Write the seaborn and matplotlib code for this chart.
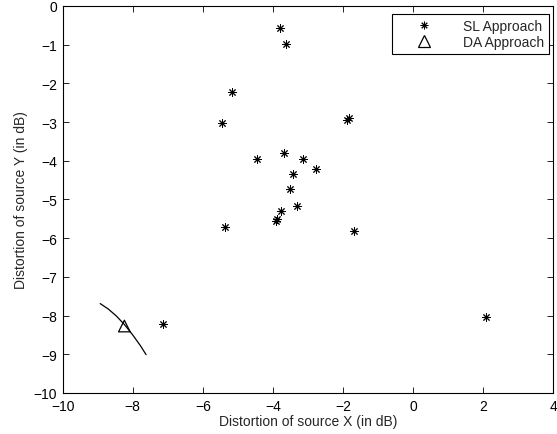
import numpy as np
import pandas as pd
import seaborn as sns
from matplotlib import pyplot as plt
from matplotlib.lines import Line2D

# SL approach points (dB)
sl_x = [-3.81, -3.62, -5.17, -5.44, -1.83, -1.87, -4.44, -3.67, -3.13, -2.76,
        -3.42, -3.51, -3.31, -3.77, -3.88, -3.92, -5.36, -1.67, -7.13, 2.09]
sl_y = [-0.57, -0.97, -2.23, -3.02, -2.90, -2.94, -3.95, -3.79, -3.95, -4.22,
        -4.34, -4.73, -5.16, -5.31, -5.51, -5.55, -5.70, -5.82, -8.22, -8.03]

# DA approach point
da_x = [-8.24]
da_y = [-8.27]

# curve through the DA point
curve_x = [-8.93, -8.70, -8.47, -8.24, -8.01, -7.78, -7.62]
curve_y = [-7.69, -7.83, -8.01, -8.23, -8.49, -8.78, -9.01]

sns.set_style("ticks")
plt.rcParams["font.family"] = ["Liberation Sans", "DejaVu Sans"]
plt.rcParams["font.size"] = 10

fig = plt.figure(figsize=(5.57, 4.35), dpi=100)
ax = fig.add_axes([0.1126, 0.0943, 0.8804, 0.8897])

sl = pd.DataFrame({"x": sl_x, "y": sl_y})
sns.scatterplot(data=sl, x="x", y="y", ax=ax, marker=(8, 2, 0), s=30,
                color="black", linewidth=0.7, edgecolor="black")

curve = pd.DataFrame({"x": curve_x, "y": curve_y})
sns.lineplot(data=curve, x="x", y="y", ax=ax, sort=False, estimator=None,
             color="black", linewidth=0.9)

da = pd.DataFrame({"x": da_x, "y": da_y})
sns.scatterplot(data=da, x="x", y="y", ax=ax, marker="^", s=70,
                facecolor="none", edgecolor="black", linewidth=0.9)

ax.set_xlim(-10, 4)
ax.set_ylim(-10, 0)
ax.set_xticks(np.arange(-10, 5, 2))
ax.set_yticks(np.arange(-10, 1, 1))
ax.tick_params(direction="in", top=True, right=True, length=4, width=0.6,
               labelsize=10, colors="black", pad=4)
for s in ax.spines.values():
    s.set_visible(True)
    s.set_linewidth(0.8)
    s.set_color("black")

ax.set_xlabel("Distortion of source X (in dB)", fontsize=10, labelpad=1)
ax.set_ylabel("Distortion of source Y (in dB)", fontsize=10, labelpad=4)

handles = [
    Line2D([], [], linestyle="none", marker=(8, 2, 0), markersize=5.5,
           color="black", markeredgewidth=0.7),
    Line2D([], [], linestyle="none", marker="^", markersize=8,
           markerfacecolor="none", markeredgecolor="black", markeredgewidth=0.9),
]
leg = ax.legend(handles, ["SL Approach", "DA Approach"], loc="upper right",
                bbox_to_anchor=(0.992, 0.98), borderaxespad=0, fancybox=False,
                framealpha=1, edgecolor="black", fontsize=10,
                handletextpad=0.8, borderpad=0.35, labelspacing=0.2,
                handlelength=4.0)
leg.get_frame().set_linewidth(0.8)

fig.savefig("out.png", dpi=100)
